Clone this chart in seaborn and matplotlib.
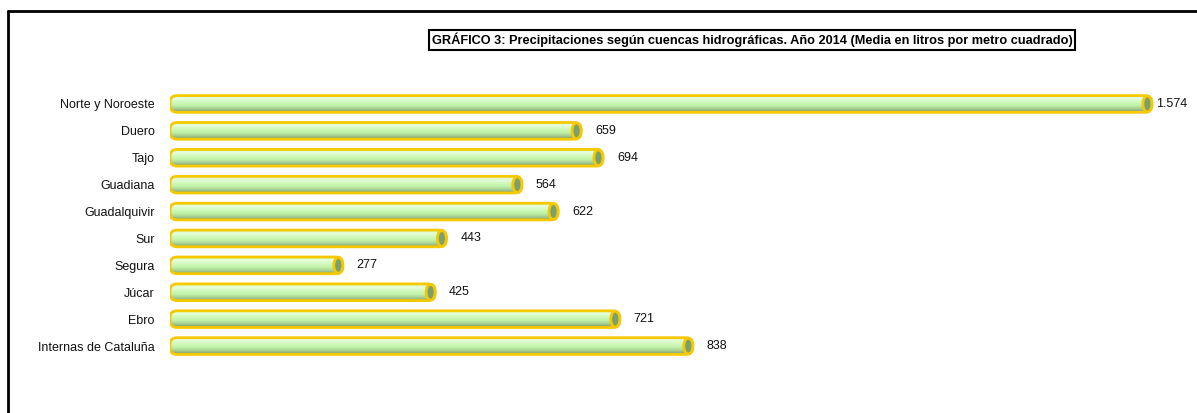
import seaborn as sns
import matplotlib.pyplot as plt
import matplotlib.patches as mpatches
import matplotlib.lines as mlines
import numpy as np
import pandas as pd
from matplotlib.colors import LinearSegmentedColormap

# DATA
cuencas = ['Norte y Noroeste', 'Duero', 'Tajo', 'Guadiana', 'Guadalquivir',
           'Sur', 'Segura', 'Júcar', 'Ebro', 'Internas de Cataluña']
precipitacion = [1574, 659, 694, 564, 622, 443, 277, 425, 721, 838]

titulo = ('GRÁFICO 3: Precipitaciones según cuencas hidrográficas. '
          'Año 2014 (Media en litros por metro cuadrado)')

df_plot = pd.DataFrame({'cuenca': cuencas, 'valor': precipitacion})

sns.set_theme(style='white')
plt.rcParams['font.family'] = ['Liberation Sans', 'DejaVu Sans']

fig = plt.figure(figsize=(11.97, 4.13), dpi=100)
# axes placed to match the reference layout
ax = fig.add_axes([170 / 1197, (413 - 359.5) / 413, 1000 / 1197, 269 / 413])

sns.barplot(data=df_plot, y='cuenca', x='valor', color='#c8f5b0',
            orient='h', width=0.62, ax=ax)

# cylinder look: rounded bar + vertical gradient + elliptic cap
grad_cmap = LinearSegmentedColormap.from_list(
    'cyl', ['#d4fac0', '#e6ffdc', '#d0fabc', '#c2f2aa', '#a8d094', '#7c9c70'])
gradient = np.linspace(0, 1, 64).reshape(-1, 1)

px_per_unit = 1000 / 1603
y_px_per_unit = 26.9
r_x = 7 / px_per_unit
aspect = (7 / y_px_per_unit) / r_x
cap_w = 9 / px_per_unit
gold = '#f5c800'

for p in ax.patches:
    x0, y0 = p.get_x(), p.get_y()
    w, h = p.get_width(), p.get_height()
    p.set_visible(False)

    body = mpatches.FancyBboxPatch(
        (x0, y0), w, h,
        boxstyle=f'round,pad=0,rounding_size={r_x}',
        mutation_aspect=aspect,
        facecolor='none', edgecolor=gold, linewidth=2.0, zorder=3)
    ax.add_patch(body)

    img = ax.imshow(gradient, cmap=grad_cmap, aspect='auto',
                    interpolation='bilinear',
                    extent=[x0, x0 + w, y0 + h, y0], zorder=2)
    img.set_clip_path(body)

    cap = mpatches.Ellipse((x0 + w - cap_w / 2, y0 + h / 2), cap_w, h * 0.95,
                           facecolor='#7aa070', edgecolor=gold,
                           linewidth=2.0, zorder=4)
    ax.add_patch(cap)

ax.set_xlim(0, 1603)
ax.set_ylim(9.5, -0.5)

# value labels
for i, v in enumerate(precipitacion):
    txt = f'{v:,}'.replace(',', '.')
    pad = 4 if v > 1500 else 14
    ax.annotate(txt, (v, i), xytext=(pad / 100 * 72, 0),
                textcoords='offset points', ha='left', va='center',
                fontsize=9, color='#111111')

ax.set_xlabel('')
ax.set_ylabel('')
ax.set_xticks([])
ax.tick_params(axis='y', length=0, pad=11, labelsize=9, labelcolor='#111111')
for s in ax.spines.values():
    s.set_visible(False)

# boxed title
fig.text(752 / 1197, 1 - 40 / 413, titulo, ha='center', va='center',
         fontsize=9.2, fontweight='bold', color='black',
         bbox=dict(boxstyle='square,pad=0.2', facecolor='white',
                   edgecolor='black', linewidth=1.5))

# outer frame (left and top only)
fig.add_artist(mlines.Line2D([8 / 1197, 8 / 1197], [0, 1 - 11 / 413],
                             color='black', linewidth=2))
fig.add_artist(mlines.Line2D([8 / 1197, 1], [1 - 11 / 413, 1 - 11 / 413],
                             color='black', linewidth=2))

fig.savefig('out.png', dpi=100)
